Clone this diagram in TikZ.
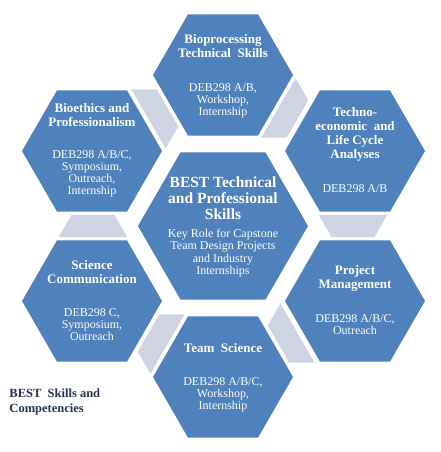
\documentclass[tikz,border=0pt]{standalone}
\usepackage{fontspec}
\setmainfont{Liberation Serif}
\usetikzlibrary{shapes.geometric}
\definecolor{hexblue}{RGB}{79,129,189}
\definecolor{linkgray}{RGB}{206,212,227}
\definecolor{labelnavy}{RGB}{35,52,82}
\tikzset{
  hexa/.style={regular polygon, regular polygon sides=6, fill=hexblue, draw=none, inner sep=0pt, minimum size=140pt},
  bighexa/.style={hexa, minimum size=170pt},
  linkshape/.style={fill=linkgray, draw=none},
  hextitle/.style={text=white, align=center, inner sep=0pt, font=\bfseries\fontsize{13}{14}\selectfont},
  hexdesc/.style={text=white, align=center, inner sep=0pt, font=\fontsize{12}{12}\selectfont},
  bigtitle/.style={text=white, align=center, inner sep=0pt, font=\bfseries\fontsize{15.5}{16.3}\selectfont},
  bigdesc/.style={text=white, align=center, inner sep=0pt, font=\fontsize{12}{12.5}\selectfont},
  cornerlabel/.style={text=labelnavy, align=left, inner sep=0pt, anchor=west, font=\bfseries\fontsize{12.5}{15.7}\selectfont}
}
\begin{document}
\begin{tikzpicture}[x=1pt,y=1pt]
\useasboundingbox[fill=white] (-223,-226) rectangle (218,226);
% connector trapezoids
\foreach \a in {0,-60,-120,-180,-240,-300}{
  \fill[linkshape, rotate=\a] (-151.5,11) -- (-108.5,11) -- (-95.8,-11) -- (-164.2,-11) -- cycle;
}
% hexagons
\node[bighexa] (cc) at (0,0) {};
\node[hexa] (bp) at (0,151) {};
\node[hexa] (be) at (-131,75) {};
\node[hexa] (te) at (132,75) {};
\node[hexa] (sc) at (-131,-75) {};
\node[hexa] (pm) at (132,-75) {};
\node[hexa] (ts) at (0,-151) {};
% texts
\node[bigtitle] (cct) at ([yshift=27.7pt]cc.center) {BEST Technical\\and Professional\\Skills};
\node[bigdesc] (ccd) at ([yshift=-27pt]cc.center) {Key Role for Capstone\\Team Design Projects\\and Industry\\Internships};
\node[hextitle] (bpt) at ([yshift=29pt]bp.center) {Bioprocessing\\Technical\ \ Skills};
\node[hexdesc] (bpd) at ([yshift=-25.7pt]bp.center) {DEB298 A/B,\\Workshop,\\Internship};
\node[hextitle] (bet) at ([yshift=36pt]be.center) {Bioethics and\\Professionalism};
\node[hexdesc] (bed) at ([yshift=-23pt]be.center) {DEB298 A/B/C,\\Symposium,\\Outreach,\\Internship};
\node[hextitle] (tet) at ([yshift=16.6pt]te.center) {Techno-\\economic\ \ and\\Life Cycle\\Analyses};
\node[hexdesc] (ted) at ([yshift=-38pt]te.center) {DEB298 A/B};
\node[hextitle] (sct) at ([yshift=29pt]sc.center) {Science\\Communication};
\node[hexdesc] (scd) at ([yshift=-24pt]sc.center) {DEB298 C,\\Symposium,\\Outreach};
\node[hextitle] (pmt) at ([yshift=23pt]pm.center) {Project\\Management};
\node[hexdesc] (pmd) at ([yshift=-23.7pt]pm.center) {DEB298 A/B/C,\\Outreach};
\node[hextitle] (tst) at ([yshift=29.3pt]ts.center) {Team\ \ Science};
\node[hexdesc] (tsd) at ([yshift=-17.6pt]ts.center) {DEB298 A/B/C,\\Workshop,\\Internship};
% corner label
\node[cornerlabel] (lbl) at (-213.7,-176) {BEST\ \ Skills and\\Competencies};
\end{tikzpicture}
\end{document}
